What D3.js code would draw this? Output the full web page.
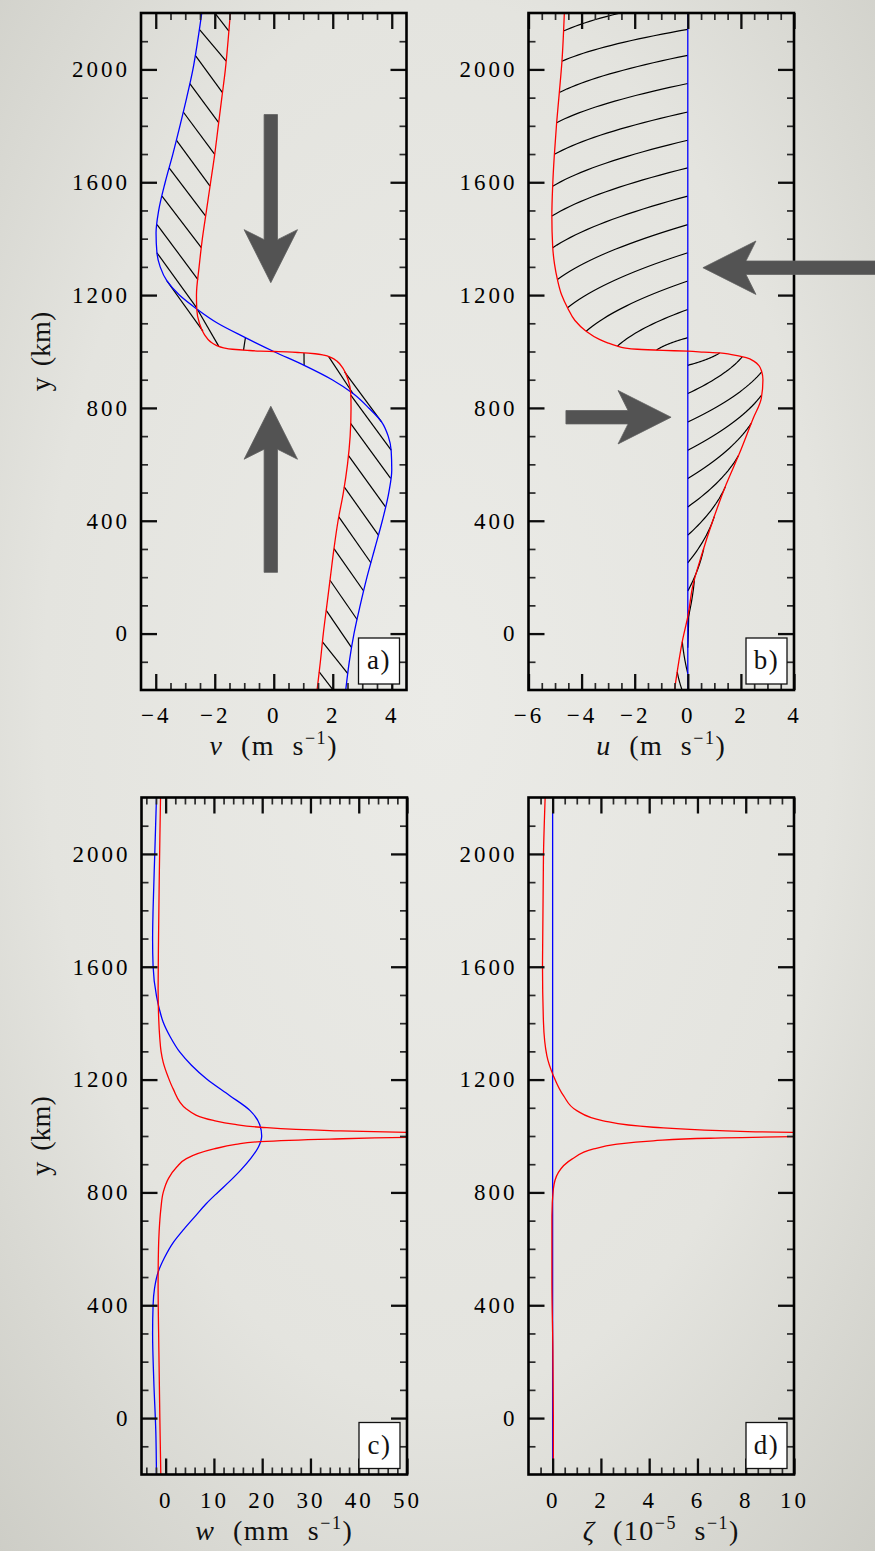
<!DOCTYPE html>
<html lang="en">
<head>
<meta charset="utf-8">
<title>frontogenesis profiles</title>
<style>
  html, body { margin: 0; padding: 0; background: #e2e2dd; }
  svg { display: block; }
</style>
</head>
<body>
<svg id="fig"></svg>
<script src="https://cdn.jsdelivr.net/npm/d3@7"></script>
<script>
// values, y in km

// a) v (m/s)
const aRedY  = [-200,-100,0,100,200,300,400,500,600,700,800,850,900,940,965,978,987,992,996,998.5,1000,1001.5,1004,1008,1013,1022,1035,1060,1100,1150,1200,1300,1400,1500,1600,1700,1800,1900,2000,2100,2200];
const aRedV  = [1.47,1.58,1.68,1.80,1.92,2.04,2.18,2.36,2.50,2.59,2.62,2.61,2.52,2.35,2.15,1.95,1.70,1.40,0.90,0.45,0,-0.45,-0.90,-1.40,-1.70,-1.95,-2.15,-2.35,-2.52,-2.61,-2.62,-2.53,-2.42,-2.28,-2.14,-2.00,-1.88,-1.76,-1.64,-1.55,-1.47];
const aBlueY = [-200,-100,0,100,200,300,400,500,580,650,700,750,800,850,900,950,1000,1050,1100,1150,1200,1250,1300,1350,1420,1500,1600,1700,1800,1900,2000,2100,2200];
const aBlueV = [2.44,2.56,2.72,2.93,3.16,3.42,3.68,3.90,4.00,3.98,3.88,3.66,3.22,2.70,1.98,1.05,0,-0.98,-1.90,-2.60,-3.20,-3.62,-3.85,-3.96,-3.99,-3.90,-3.68,-3.42,-3.18,-2.95,-2.74,-2.58,-2.44];

// b) u (m/s)
const bRedY  = [-200,-100,-20,60,170,275,400,530,640,760,835,900,930,950,965,978,990,995,998,1001,1004,1008,1013,1019,1030,1043,1072,1110,1155,1200,1255,1310,1373,1480,1586,1692,1811,1917,2029,2200];
const bRedU  = [-0.50,-0.34,-0.19,0.0,0.19,0.51,0.94,1.45,1.95,2.45,2.77,2.83,2.78,2.68,2.50,2.20,1.60,1.20,0.60,0,-0.94,-1.90,-2.40,-2.65,-3.00,-3.33,-3.83,-4.25,-4.53,-4.75,-4.91,-5.02,-5.09,-5.12,-5.09,-5.03,-4.94,-4.84,-4.74,-4.65];
const bBlueY = [-200,2200];
const bBlueU = [0,0];

// parcels: start (blue) and end (red) positions joined by the hatching
const parcelY0 = [2250,2142,2050,1950,1849,1749,1651,1551,1450,1350,1250,1149,1049,951,851,750,650,550,449,349,251,151,50,-50,-142,-250];
const parcelY1 = [2136,2029,1918,1811,1699,1586,1480,1368,1255,1155,1072,1019,1005,995,981,928,845,745,632,520,414,301,189,82,-29,-136];

// c) w (mm/s)
const cBlueY   = [-200,-50,130,300,400,460,517,570,623,670,717,760,800,840,880,920,960,1000,1040,1090,1143,1202,1250,1297,1350,1403,1450,1497,1603,1697,1804,2006,2200];
const cBlueW   = [-1.9,-2.03,-2.45,-2.70,-2.60,-2.30,-1.56,-0.20,1.60,3.80,6.20,8.40,10.8,13.3,15.6,17.6,19.2,19.9,19.5,17.5,13.3,8.5,5.4,2.95,1.0,-0.5,-1.3,-1.9,-2.6,-2.7,-2.6,-2.24,-1.9];
const cRedLowY = [-200,0,250,480,600,660,740,800,850,890,920,954,970,980,989,995,998];
const cRedLowW = [-1.00,-1.20,-1.41,-1.56,-1.48,-1.35,-1.00,-0.50,0.60,2.30,4.30,10.0,14.5,19.6,34,50,65];
const cRedUpY  = [1010,1013,1019,1031,1042,1055,1096,1167,1210,1261,1300,1344,1420,1521,1700,1876,2050,2200];
const cRedUpW  = [65,50,34,19.6,14,9.9,4.3,1.56,0.5,-0.5,-0.95,-1.2,-1.45,-1.56,-1.47,-1.35,-1.2,-1.06];

// d) zeta (1e-5 /s)
const dBlueY   = [-200,2200];
const dBlueZ   = [0,0];
const dRedLowY = [-200,0,245,480,717,812,871,918,954,970,983,992,997.5,999];
const dRedLowZ = [0.03,0.03,0.01,-0.03,-0.03,0.03,0.24,0.80,1.70,2.60,4.17,6.50,10.0,12.5];
const dRedUpY  = [1011,1013,1019,1031,1054,1090,1143,1214,1285,1403,1604,1994,2200];
const dRedUpZ  = [12.5,9.96,6.93,4.17,2.10,1.00,0.45,0.03,-0.24,-0.38,-0.42,-0.38,-0.31];

// axes
const yDomain  = [-200, 2200];
const yTicks   = [0, 400, 800, 1200, 1600, 2000];
const aXTicks  = [-4, -2, 0, 2, 4];
const bXTicks  = [-6, -4, -2, 0, 2, 4];
const cXTicks  = [0, 10, 20, 30, 40, 50];
const dXTicks  = [0, 2, 4, 6, 8, 10];

const W = 875, H = 1551;
const PW = 265.5, PH = 677;
const serif = '"Liberation Serif", "DejaVu Serif", serif';

const svg = d3.select('#fig').attr('width', W).attr('height', H);

// paper background with a soft vignette
const defs = svg.append('defs');
const grad = defs.append('radialGradient').attr('id', 'bg')
  .attr('cx', '50%').attr('cy', '45%').attr('r', '75%');
grad.append('stop').attr('offset', '0%').attr('stop-color', '#ebebe7');
grad.append('stop').attr('offset', '60%').attr('stop-color', '#e4e4df');
grad.append('stop').attr('offset', '100%').attr('stop-color', '#cdcdc6');
svg.append('rect').attr('width', W).attr('height', H).attr('fill', 'url(#bg)');

const panels = [
  { id: 'a', left: 141,   top: 13,    xDomain: [-4.5, 4.5], ticks: aXTicks, minor: 0.5, ytitle: true },
  { id: 'b', left: 528.5, top: 13,    xDomain: [-6, 4],     ticks: bXTicks, minor: 0.5, ytitle: false },
  { id: 'c', left: 141.5, top: 797.5, xDomain: [-5, 50],    ticks: cXTicks, minor: 2,   ytitle: true },
  { id: 'd', left: 528.5, top: 797.5, xDomain: [-1, 10],    ticks: dXTicks, minor: 0.5, ytitle: false }
];

panels.forEach(p => {
  p.x = d3.scaleLinear().domain(p.xDomain).range([p.left, p.left + PW]);
  p.y = d3.scaleLinear().domain(yDomain).range([p.top + PH, p.top]);
  p.g = svg.append('g');
  defs.append('clipPath').attr('id', 'clip-' + p.id)
    .append('rect').attr('x', p.left).attr('y', p.top).attr('width', PW).attr('height', PH);
  p.plot = p.g.append('g').attr('clip-path', 'url(#clip-' + p.id + ')');
});
const [pa, pb, pc, pd] = panels;

function curve(p, ys, xs, color) {
  const pts = ys.map((yy, i) => [xs[i], yy]);
  const line = d3.line()
    .x(d => p.x(d[0])).y(d => p.y(d[1]))
    .curve(d3.curveMonotoneY);
  p.plot.append('path')
    .attr('d', line(pts))
    .attr('fill', 'none')
    .attr('stroke', color)
    .attr('stroke-width', 1.3);
}

// piecewise-linear lookups for the hatch end points
const aRed  = d3.scaleLinear().domain(aRedY).range(aRedV);
const aBlue = d3.scaleLinear().domain(aBlueY).range(aBlueV);
const bRed  = d3.scaleLinear().domain(bRedY).range(bRedU);

// a) straight hatch lines blue(y0) -> red(y1)
pa.plot.append('g').selectAll('line')
  .data(d3.zip(parcelY0, parcelY1))
  .join('line')
  .attr('x1', d => pa.x(aBlue(d[0]))).attr('y1', d => pa.y(d[0]))
  .attr('x2', d => pa.x(aRed(d[1]))).attr('y2', d => pa.y(d[1]))
  .attr('stroke', '#000').attr('stroke-width', 1.2);

// b) curved trajectories from u=0 at y0 to red u at y1
const steps = d3.range(0, 1.0001, 0.05);
const trajLine = d3.line().x(d => pb.x(d[0])).y(d => pb.y(d[1]));
pb.plot.append('g').selectAll('path')
  .data(d3.zip(parcelY0, parcelY1))
  .join('path')
  .attr('d', d => {
    const u1 = bRed(d[1]);
    return trajLine(steps.map(s => [u1 * (1.43 * s - 0.43 * s * s), d[0] + (d[1] - d[0]) * s]));
  })
  .attr('fill', 'none').attr('stroke', '#000').attr('stroke-width', 1.2);

curve(pa, aBlueY, aBlueV, '#0000ff');
curve(pa, aRedY, aRedV, '#ff0000');
curve(pb, bBlueY, bBlueU, '#0000ff');
curve(pb, bRedY, bRedU, '#ff0000');
curve(pc, cBlueY, cBlueW, '#0000ff');
curve(pc, cRedLowY, cRedLowW, '#ff0000');
curve(pc, cRedUpY, cRedUpW, '#ff0000');
curve(pd, dBlueY, dBlueZ, '#0000ff');
curve(pd, dRedLowY, dRedLowZ, '#ff0000');
curve(pd, dRedUpY, dRedUpZ, '#ff0000');

// arrows (annotation), drawn in data units
function arrow(p, tail, tip) {
  const t = [p.x(tail[0]), p.y(tail[1])], h = [p.x(tip[0]), p.y(tip[1])];
  const len = Math.hypot(h[0] - t[0], h[1] - t[1]);
  const dx = (h[0] - t[0]) / len, dy = (h[1] - t[1]) / len;
  const nx = -dy, ny = dx;
  const sw = 6.7, hw = 26.7, hl = 53, notch = 10;
  const at = (a, b) => [h[0] - dx * a + nx * b, h[1] - dy * a + ny * b];
  const pts = [
    [t[0] + nx * sw, t[1] + ny * sw], at(hl - notch, sw), at(hl, hw), h,
    at(hl, -hw), at(hl - notch, -sw), [t[0] - nx * sw, t[1] - ny * sw]
  ];
  svg.append('polygon')
    .attr('points', pts.map(q => q.join(',')).join(' '))
    .attr('fill', '#535353').attr('stroke', '#606060').attr('stroke-width', 0.8);
}
arrow(pa, [-0.1, 1840], [-0.1, 1244]);
arrow(pa, [-0.1, 217], [-0.1, 806]);
arrow(pb, [7.1, 1297], [0.57, 1297]);
arrow(pb, [-4.59, 767], [-0.63, 767]);

// frames, ticks and labels
const tickFont = 23, tickLS = 3;
panels.forEach(p => {
  const bottom = p.top + PH, right = p.left + PW;
  const majX = p.ticks;
  const minX = d3.range(Math.ceil(p.xDomain[0] / p.minor) * p.minor, p.xDomain[1] + 1e-9, p.minor)
    .filter(v => !majX.some(m => Math.abs(m - v) < 1e-9) && v > p.xDomain[0] + 1e-9 && v < p.xDomain[1] - 1e-9);
  const minY = d3.range(-100, 2200, 100).filter(v => !yTicks.includes(v));

  const ax = p.g.append('g');
  const fmt = d3.format('d');
  const clean = s => s.call(g => g.select('.domain').remove());
  const major = [], minor = [];

  major.push(ax.append('g').attr('transform', `translate(0,${bottom})`)
    .call(d3.axisBottom(p.x).tickValues(majX).tickSize(-16).tickPadding(17).tickFormat(fmt)).call(clean));
  minor.push(ax.append('g').attr('transform', `translate(0,${bottom})`)
    .call(d3.axisBottom(p.x).tickValues(minX).tickSize(-7).tickFormat('')).call(clean));
  major.push(ax.append('g').attr('transform', `translate(0,${p.top})`)
    .call(d3.axisTop(p.x).tickValues(majX).tickSize(-16).tickFormat('')).call(clean));
  minor.push(ax.append('g').attr('transform', `translate(0,${p.top})`)
    .call(d3.axisTop(p.x).tickValues(minX).tickSize(-7).tickFormat('')).call(clean));
  major.push(ax.append('g').attr('transform', `translate(${p.left},0)`)
    .call(d3.axisLeft(p.y).tickValues(yTicks).tickSize(-16).tickPadding(14 - tickLS).tickFormat(fmt)).call(clean));
  minor.push(ax.append('g').attr('transform', `translate(${p.left},0)`)
    .call(d3.axisLeft(p.y).tickValues(minY).tickSize(-7).tickFormat('')).call(clean));
  major.push(ax.append('g').attr('transform', `translate(${right},0)`)
    .call(d3.axisRight(p.y).tickValues(yTicks).tickSize(-16).tickFormat('')).call(clean));
  minor.push(ax.append('g').attr('transform', `translate(${right},0)`)
    .call(d3.axisRight(p.y).tickValues(minY).tickSize(-7).tickFormat('')).call(clean));

  major.forEach(s => s.selectAll('line').attr('stroke', '#0d0d0d').attr('stroke-width', 2.3));
  minor.forEach(s => s.selectAll('line').attr('stroke', '#2a2a2a').attr('stroke-width', 1.7));
  ax.selectAll('g').attr('font-family', null).attr('font-size', null);
  ax.selectAll('text')
    .style('font-family', serif).style('font-size', tickFont + 'px')
    .style('letter-spacing', tickLS + 'px').attr('fill', '#000');

  p.g.append('rect')
    .attr('x', p.left).attr('y', p.top).attr('width', PW).attr('height', PH)
    .attr('fill', 'none').attr('stroke', '#000').attr('stroke-width', 2.6);

  // panel tag
  p.g.append('rect')
    .attr('x', right - 7 - 41).attr('y', bottom - 6 - 46).attr('width', 41).attr('height', 46)
    .attr('fill', '#fff').attr('stroke', '#111').attr('stroke-width', 1.3);
  p.g.append('text')
    .attr('x', right - 7 - 20.5).attr('y', bottom - 6 - 15)
    .attr('text-anchor', 'middle')
    .style('font-family', serif).style('font-size', '27px').style('letter-spacing', '1.5px')
    .attr('fill', '#111')
    .text(p.id + ')');

  if (p.ytitle) {
    p.g.append('text')
      .attr('transform', `translate(50,${p.top + PH / 2}) rotate(-90)`)
      .attr('text-anchor', 'middle')
      .style('font-family', serif).style('font-size', '28px').style('word-spacing', '4px')
      .attr('fill', '#111')
      .text('y (km)');
  }
});

// x axis titles
function xTitle(p, sym, unitPre, unitMid) {
  const t = p.g.append('text')
    .attr('x', p.left + PW / 2).attr('y', p.top + PH + 65)
    .attr('text-anchor', 'middle')
    .style('font-family', serif).style('font-size', '28px')
    .style('letter-spacing', '1.5px').style('word-spacing', '9px')
    .attr('fill', '#111');
  t.append('tspan').attr('font-style', 'italic').text(sym);
  t.append('tspan').text(' (' + unitPre);
  if (unitMid) {
    t.append('tspan').attr('dy', -11).style('font-size', '18px').text('\u22125');
    t.append('tspan').attr('dy', 11).text(' ' + unitMid);
  }
  t.append('tspan').attr('dy', -11).style('font-size', '18px').text('\u22121');
  t.append('tspan').attr('dy', 11).text(')');
}
xTitle(pa, 'v', 'm s');
xTitle(pb, 'u', 'm s');
xTitle(pc, 'w', 'mm s');
xTitle(pd, '\u03b6', '10', 's');
</script>
</body>
</html>
